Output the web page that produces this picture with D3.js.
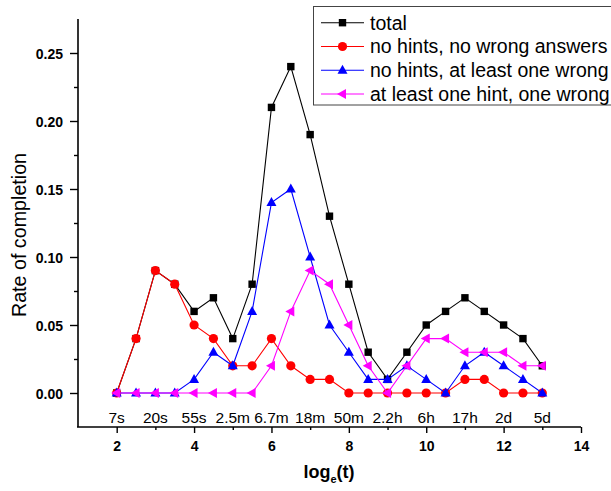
<!DOCTYPE html>
<html><head><meta charset="utf-8">
<script src="https://cdn.jsdelivr.net/npm/d3@7"></script>
<style>body{margin:0;background:#fff}svg{display:block}</style>
</head><body>
<svg id="c" width="611" height="491"></svg>
<script>
const xs = [2,2.5,3,3.5,4,4.5,5,5.5,6,6.5,7,7.5,8,8.5,9,9.5,10,10.5,11,11.5,12,12.5,13];
const total =      [0,0.04,0.09,0.08,0.06,0.07,0.04,0.08,0.21,0.24,0.19,0.13,0.08,0.03,0.01,0.03,0.05,0.06,0.07,0.06,0.05,0.04,0.02];
const noHintsNoWrong = [0,0.04,0.09,0.08,0.05,0.04,0.02,0.02,0.04,0.02,0.01,0.01,0,0,0,0,0,0,0.01,0.01,0,0,0];
const noHintsWrong = [0,0,0,0,0.01,0.03,0.02,0.06,0.14,0.15,0.10,0.05,0.03,0.01,0.01,0.02,0.01,0,0.02,0.03,0.02,0.01,0];
const hintWrong =    [0,0,0,0,0,0,0,0,0.02,0.06,0.09,0.08,0.05,0.02,0,0.02,0.04,0.04,0.03,0.03,0.03,0.02,0.02];
const seriesNames = ["total","no hints, no wrong answers","no hints, at least one wrong","at least one hint, one wrong"];
const seriesColors = ["#000000","#ff0000","#0000ff","#ff00ff"];
const timeLabelX = [2,3,4,5,6,7,8,9,10,11,12,13];
const timeLabels = ["7s","20s","55s","2.5m","6.7m","18m","50m","2.2h","6h","17h","2d","5d"];
const xTicks = [2,4,6,8,10,12,14];
const yTicks = [0,0.05,0.10,0.15,0.20,0.25];

const FONT = "Liberation Sans, Arial, sans-serif";
const svg = d3.select("#c");
const L = 78, R = 581, T = 19, B = 427;
const x = d3.scaleLinear().domain([1,14]).range([L,R]);
const y = d3.scaleLinear().domain([-0.025,0.275]).range([B,T]);

// axes
const gx = svg.append("g").attr("transform",`translate(0,${B})`);
gx.call(d3.axisBottom(x).tickValues(xTicks).tickSize(6).tickFormat(d3.format("d")));
const gxm = svg.append("g").attr("transform",`translate(0,${B})`);
gxm.call(d3.axisBottom(x).tickValues([3,5,7,9,11,13]).tickSize(3).tickFormat(""));
const gy = svg.append("g").attr("transform",`translate(${L},0)`);
gy.call(d3.axisLeft(y).tickValues(yTicks).tickSize(8).tickFormat(d3.format(".2f")));
const gym = svg.append("g").attr("transform",`translate(${L},0)`);
gym.call(d3.axisLeft(y).tickValues([0.025,0.075,0.125,0.175,0.225]).tickSize(4).tickFormat(""));
[gx,gxm,gy,gym].forEach(g=>{
  g.selectAll(".domain").attr("stroke","#000").attr("stroke-width",1.6);
  g.selectAll(".tick line").attr("stroke","#000").attr("stroke-width",1.4);
});
gxm.select(".domain").remove(); gym.select(".domain").remove();
gy.select(".domain").attr("d",`M0,${T}V${B}`);
gx.select(".domain").attr("d",`M${L-1},0H${R}`);
gx.selectAll(".tick text").attr("font-family",FONT).attr("font-weight","bold").attr("font-size",14).attr("fill","#000").attr("dy","0").attr("y",24);
gy.selectAll(".tick text").attr("font-family",FONT).attr("font-weight","bold").attr("font-size",14).attr("fill","#000").attr("x",-15).attr("dy","0.36em");

// time labels
svg.append("g").selectAll("text").data(timeLabelX).join("text")
  .attr("x",d=>x(d)).attr("y",422.5).attr("text-anchor","middle")
  .attr("font-family",FONT).attr("font-size",15.5)
  .text((d,i)=>timeLabels[i]);

// titles
svg.append("text").attr("transform","translate(26,235) rotate(-90)").attr("text-anchor","middle")
  .attr("font-family",FONT).attr("font-size",19.7).text("Rate of completion");
const xt = svg.append("text").attr("x",329).attr("y",478).attr("text-anchor","middle")
  .attr("font-family",FONT).attr("font-size",18).attr("font-weight","bold");
xt.append("tspan").text("log");
xt.append("tspan").attr("font-size",11).attr("dy",5).text("e");
xt.append("tspan").attr("dy",-5).text("(t)");

// markers
function marker(g, kind, color, cx, cy){
  if(kind===0){ g.append("rect").attr("x",cx-3.7).attr("y",cy-3.7).attr("width",7.4).attr("height",7.4).attr("fill",color); }
  else if(kind===1){ g.append("circle").attr("cx",cx).attr("cy",cy).attr("r",4.6).attr("fill",color); }
  else if(kind===2){ g.append("path").attr("d",`M${cx},${cy-5.5}L${cx+5},${cy+3.5}L${cx-5},${cy+3.5}Z`).attr("fill",color); }
  else { g.append("path").attr("d",`M${cx-5.5},${cy}L${cx+3.5},${cy-5}L${cx+3.5},${cy+5}Z`).attr("fill",color); }
}
const allSeries = [total,noHintsNoWrong,noHintsWrong,hintWrong];
const line = d3.line().x((d,i)=>x(xs[i])).y(d=>y(d));
allSeries.forEach((s,k)=>{
  const g = svg.append("g");
  g.append("path").attr("d",line(s)).attr("fill","none").attr("stroke",seriesColors[k]).attr("stroke-width",1.1);
  s.forEach((v,i)=>marker(g,k,seriesColors[k],x(xs[i]),y(v)));
});

// legend
const lg = svg.append("g");
lg.append("rect").attr("x",313.5).attr("y",6.5).attr("width",310).attr("height",98.5).attr("fill","#fff").attr("stroke","#444").attr("stroke-width",1);
const ly = [22.7,46.5,70.2,94];
seriesNames.forEach((n,k)=>{
  lg.append("line").attr("x1",321).attr("x2",364).attr("y1",ly[k]).attr("y2",ly[k]).attr("stroke",seriesColors[k]).attr("stroke-width",1.1);
  marker(lg,k,seriesColors[k],342.5,ly[k]);
  lg.append("text").attr("x",370).attr("y",ly[k]+6.8).attr("font-family",FONT).attr("font-size",19.5).text(n);
});
</script>
</body></html>
